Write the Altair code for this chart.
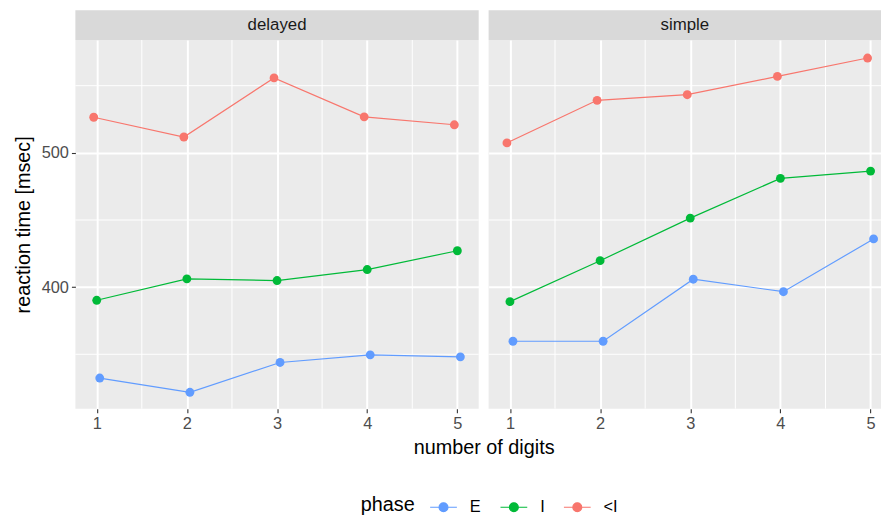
import altair as alt
import pandas as pd

# ---------------- data ----------------
digits = [1, 2, 3, 4, 5]
phases = ["E", "I", "<I"]
phase_colors = ["#619CFF", "#00BA38", "#F8766D"]
panels = ["delayed", "simple"]

delayed_E = [332.3, 321.7, 343.9, 349.6, 348.1]
delayed_I = [390.2, 406.2, 404.9, 413.1, 427.1]
delayed_LI = [526.5, 511.8, 555.8, 526.8, 520.9]

simple_E = [359.7, 359.7, 405.9, 396.6, 435.9]
simple_I = [389.2, 419.7, 451.4, 481.0, 486.4]
simple_LI = [507.4, 539.1, 543.3, 556.9, 570.6]

x_ticks = [1, 2, 3, 4, 5]
y_ticks = [400, 500]

# ---------------- tables ----------------
series = {
    "delayed": {"E": delayed_E, "I": delayed_I, "<I": delayed_LI},
    "simple": {"E": simple_E, "I": simple_I, "<I": simple_LI},
}
rows = []
for p in panels:
    for ph in phases:
        for d, v in zip(digits, series[p][ph]):
            rows.append({"panel": p, "phase": ph, "digits": d, "rt": v})
df = pd.DataFrame(rows)

x_step = x_ticks[1] - x_ticks[0]
x_minor = [t + x_step / 2 for t in x_ticks[:-1]]
y_step = y_ticks[1] - y_ticks[0]
y_minor = [t - y_step / 2 for t in y_ticks] + [y_ticks[-1] + y_step / 2]

FONT = "Liberation Sans"
PANEL_H = 372
LEFT_W = 407
RIGHT_W = 396
STRIP_H = 30
px_per_unit = LEFT_W / 4.4733
x_lo = 0.7633
left_dom = [x_lo, x_lo + LEFT_W / px_per_unit]
right_dom = [x_lo, x_lo + RIGHT_W / px_per_unit]
y_dom = [309.5, 584]

dodge_expr = ("datum.digits + (datum.phase == 'E' ? 1/30 : "
              "(datum.phase == '<I' ? -1/30 : 0))")

legend_path = ("M-1,0H1M-0.33,0A0.33,0.33,0,1,1,0.33,0"
               "A0.33,0.33,0,1,1,-0.33,0Z")

color_enc = alt.Color(
    "phase:N",
    scale=alt.Scale(domain=phases, range=phase_colors),
    sort=phases,
    legend=alt.Legend(
        title="phase",
        orient="none",
        legendX=288,
        legendY=457,
        direction="horizontal",
        titleOrient="left",
        symbolType=legend_path,
        symbolSize=729,
        symbolStrokeWidth=1.2,
        labelFontSize=16.5,
        labelFont=FONT,
        labelColor="black",
        titleFontSize=20,
        titleFont=FONT,
        titleFontWeight="normal",
        titleColor="black",
        titlePadding=14,
        labelOffset=12,
        columnPadding=16,
    ),
)


def make_panel(name, width, xdom, first):
    xscale = alt.Scale(domain=xdom, nice=False, zero=False)
    yscale = alt.Scale(domain=y_dom, nice=False, zero=False)

    if first:
        xaxis = alt.Axis(values=x_ticks, format="d", title="number of digits",
                         titleX=412, grid=True)
        yaxis = alt.Axis(values=y_ticks, format="d",
                         title="reaction time [msec]", grid=True)
    else:
        xaxis = alt.Axis(values=x_ticks, format="d", title=None, grid=True)
        yaxis = alt.Axis(values=y_ticks, title=None, labels=False,
                         ticks=False, grid=True)

    base = (alt.Chart(df)
            .transform_filter(alt.datum.panel == name)
            .transform_calculate(xd=dodge_expr))

    xminor = alt.Chart(pd.DataFrame({"xm": x_minor})).mark_rule(
        color="white", strokeWidth=1).encode(
        x=alt.X("xm:Q", scale=xscale, axis=xaxis))
    yminor = alt.Chart(pd.DataFrame({"ym": y_minor})).mark_rule(
        color="white", strokeWidth=1).encode(
        y=alt.Y("ym:Q", scale=yscale, axis=yaxis))

    lines = base.mark_line(strokeWidth=1.2).encode(
        x=alt.X("xd:Q", scale=xscale, axis=xaxis),
        y=alt.Y("rt:Q", scale=yscale, axis=yaxis),
        color=color_enc,
        detail="phase:N",
    )
    points = base.mark_point(filled=True, size=80, opacity=1).encode(
        x=alt.X("xd:Q", scale=xscale, axis=xaxis),
        y=alt.Y("rt:Q", scale=yscale, axis=yaxis),
        color=color_enc,
    )

    strip_df = pd.DataFrame({"panel": [name]})
    strip_rect = alt.Chart(strip_df).mark_rect(color="#D9D9D9").encode(
        x=alt.value(0), x2=alt.value(width),
        y=alt.value(-STRIP_H), y2=alt.value(0))
    strip_text = alt.Chart(strip_df).mark_text(
        font=FONT, fontSize=17, color="#1A1A1A", baseline="middle").encode(
        x=alt.value(width / 2), y=alt.value(-STRIP_H / 2), text="panel:N")

    return alt.layer(xminor, yminor, lines, points, strip_rect, strip_text).properties(
        width=width, height=PANEL_H)


left = make_panel("delayed", LEFT_W, left_dom, True)
right = make_panel("simple", RIGHT_W, right_dom, False)

chart = (alt.hconcat(left, right, spacing=10, bounds="flush")
         .properties(padding={"left": 5, "top": 0, "right": 0, "bottom": 0})
         .configure_view(fill="#EBEBEB", stroke=None)
         .configure_axis(
             domain=False,
             gridColor="white",
             gridWidth=2,
             tickColor="#333333",
             tickWidth=1.1,
             tickSize=4,
             labelFont=FONT,
             labelFontSize=16.5,
             labelColor="#4D4D4D",
             labelPadding=3,
             titleFont=FONT,
             titleFontSize=20,
             titleFontWeight="normal",
             titleColor="black",
             titlePadding=8,
         )
         .configure_axisX(titlePadding=6)
         )

chart.save("out.html", embed_options={"renderer": "svg", "actions": False})
